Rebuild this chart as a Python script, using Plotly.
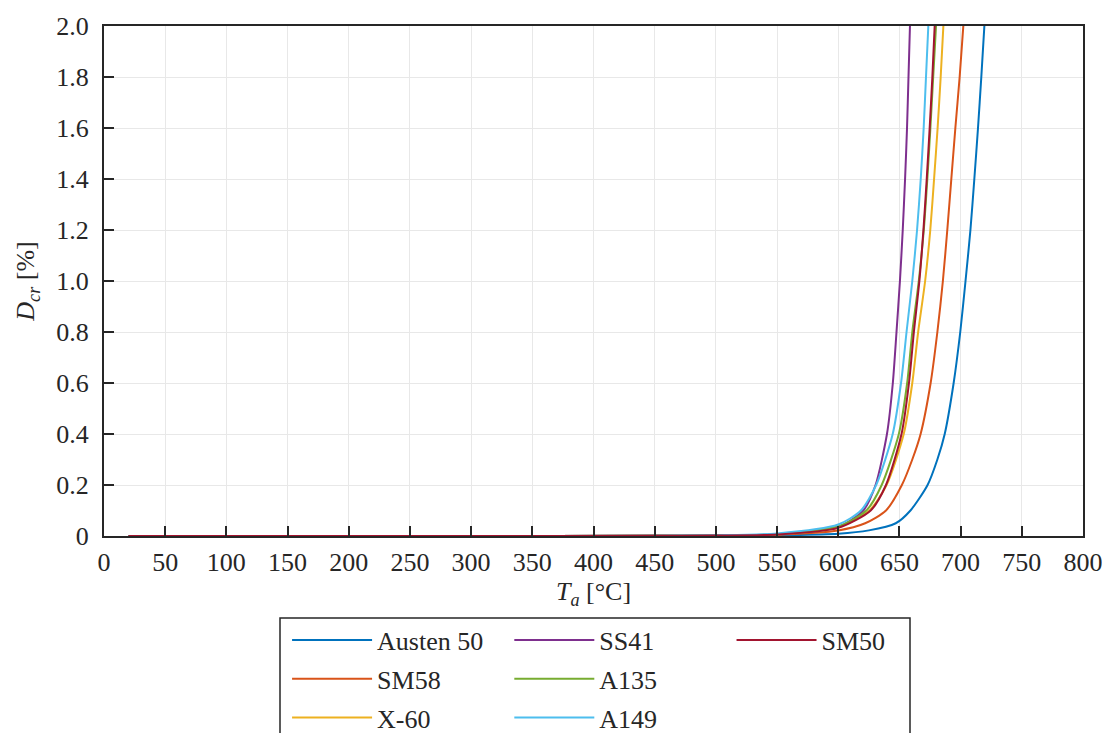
import plotly.graph_objects as go

# ---- data ----
T_austen50 = [20, 300, 450, 500, 550, 600, 625, 647, 659, 673, 681, 687, 694.3, 699.7, 704, 708, 711.2, 714.2, 716.9, 719.4]
D_austen50 = [0, 0, 0.0005, 0.001, 0.003, 0.009, 0.022, 0.05, 0.1, 0.2, 0.3, 0.4, 0.6, 0.8, 1.0, 1.2, 1.4, 1.6, 1.8, 2.0]

T_sm58 = [20, 300, 450, 500, 550, 600, 622, 639, 652, 660.5, 667.3, 675.5, 681, 685.5, 689.1, 692.4, 695.7, 699.2, 702.2]
D_sm58 = [0, 0, 0.001, 0.002, 0.005, 0.022, 0.05, 0.1, 0.2, 0.3, 0.4, 0.6, 0.8, 1.0, 1.2, 1.4, 1.6, 1.8, 2.0]

T_x60 = [20, 300, 450, 500, 550, 600, 625.5, 639.5, 653.5, 660.5, 665.3, 671, 675.2, 678.3, 681.2, 683.7, 685.9]
D_x60 = [0, 0, 0.0008, 0.002, 0.006, 0.034, 0.1, 0.2, 0.4, 0.6, 0.8, 1.0, 1.2, 1.4, 1.6, 1.8, 2.0]

T_ss41 = [20, 300, 450, 500, 550, 600, 620.5, 630.5, 639.8, 644.6, 647.6, 650.4, 652.7, 654.6, 656.2, 657.4, 658.6]
D_ss41 = [0, 0, 0.001, 0.002, 0.007, 0.035, 0.1, 0.2, 0.4, 0.6, 0.8, 1.0, 1.2, 1.4, 1.6, 1.8, 2.0]

T_a135 = [20, 300, 450, 500, 550, 600, 623, 635.5, 649.5, 656.3, 660.5, 665.8, 669.9, 672.8, 675.3, 677.6, 679.9]
D_a135 = [0, 0, 0.001, 0.002, 0.007, 0.038, 0.1, 0.2, 0.4, 0.6, 0.8, 1.0, 1.2, 1.4, 1.6, 1.8, 2.0]

T_a149 = [20, 300, 450, 500, 550, 600, 618.5, 631, 644.5, 651.3, 655.8, 660.5, 664.4, 667.4, 669.8, 671.7, 673.6]
D_a149 = [0, 0, 0.001, 0.003, 0.01, 0.045, 0.1, 0.2, 0.4, 0.6, 0.8, 1.0, 1.2, 1.4, 1.6, 1.8, 2.0]

T_sm50 = [20, 300, 450, 500, 550, 600, 626.5, 639, 651.7, 657.8, 661.8, 666.3, 669.6, 672.3, 674.7, 676.9, 678.8]
D_sm50 = [0, 0, 0.0008, 0.002, 0.006, 0.032, 0.1, 0.2, 0.4, 0.6, 0.8, 1.0, 1.2, 1.4, 1.6, 1.8, 2.0]

series_names = ["Austen 50", "SM58", "X-60", "SS41", "A135", "A149", "SM50"]
series_T = [T_austen50, T_sm58, T_x60, T_ss41, T_a135, T_a149, T_sm50]
series_D = [D_austen50, D_sm58, D_x60, D_ss41, D_a135, D_a149, D_sm50]
series_colors = ["#0072BD", "#D95319", "#EDB120", "#7E2F8E", "#77AC30", "#4DBEEE", "#A2142F"]
series_legend = ["legend", "legend", "legend", "legend2", "legend2", "legend2", "legend3"]

x_ticks = list(range(0, 801, 50))
y_ticks = [0, 0.2, 0.4, 0.6, 0.8, 1.0, 1.2, 1.4, 1.6, 1.8, 2.0]
y_ticktext = ["0", "0.2", "0.4", "0.6", "0.8", "1.0", "1.2", "1.4", "1.6", "1.8", "2.0"]

FONT = "Liberation Serif"
TXT = "#262626"
FS = 26

fig = go.Figure()
for name, T, D, c, lg in zip(series_names, series_T, series_D, series_colors, series_legend):
    fig.add_trace(go.Scatter(
        x=T, y=D, mode="lines", name=name,
        line=dict(color=c, width=2, shape="spline", smoothing=0.7),
        legend=lg, legendgroup=name,
    ))

legend_common = dict(
    orientation="v", yanchor="top", xanchor="left",
    bgcolor="rgba(0,0,0,0)", borderwidth=0,
    font=dict(family=FONT, size=FS, color=TXT),
    itemwidth=80, tracegroupgap=2, itemclick=False,
)

fig.update_layout(
    width=1105, height=733,
    margin=dict(l=104, r=22, t=26, b=197, autoexpand=False),
    paper_bgcolor="white", plot_bgcolor="white",
    font=dict(family=FONT, size=FS, color=TXT),
    showlegend=True,
    legend=dict(x=0.187, y=-0.158, **legend_common),
    legend2=dict(x=0.414, y=-0.158, **legend_common),
    legend3=dict(x=0.641, y=-0.158, **legend_common),
    xaxis=dict(
        range=[0, 800], tickvals=x_ticks, ticktext=[str(v) for v in x_ticks],
        ticks="inside", ticklen=10, tickwidth=2, tickcolor=TXT,
        showline=True, linecolor=TXT, linewidth=2, mirror=True,
        showgrid=True, gridcolor="#E8E8E8", gridwidth=1, zeroline=False,
        automargin=False, ticklabelstandoff=2,
        title=dict(text="<i>T</i><sub><i>a</i></sub> [°C]", font=dict(family=FONT, size=FS, color=TXT), standoff=4),
        tickfont=dict(family=FONT, size=FS, color=TXT),
    ),
    yaxis=dict(
        range=[0, 2.0], tickvals=y_ticks, ticktext=y_ticktext,
        ticks="inside", ticklen=10, tickwidth=2, tickcolor=TXT,
        showline=True, linecolor=TXT, linewidth=2, mirror=True,
        showgrid=True, gridcolor="#E8E8E8", gridwidth=1, zeroline=False,
        automargin=False, ticklabelstandoff=8,
        title=dict(text="<i>D</i><sub><i>cr</i></sub> [%]", font=dict(family=FONT, size=FS, color=TXT), standoff=14),
        tickfont=dict(family=FONT, size=FS, color=TXT),
    ),
    shapes=[dict(type="rect", xref="paper", yref="paper",
                 x0=(280 - 104) / 979, x1=(910 - 104) / 979,
                 y0=(536 - 760) / 510, y1=(536 - 618) / 510,
                 line=dict(color=TXT, width=1.5), fillcolor="rgba(0,0,0,0)", layer="below")],
)

# the page's default 8px body margin would shift the 1105x733 figure; remove it
fig.write_html("out.html", config={"displayModeBar": False},
               post_script="document.body.style.margin='0';")
